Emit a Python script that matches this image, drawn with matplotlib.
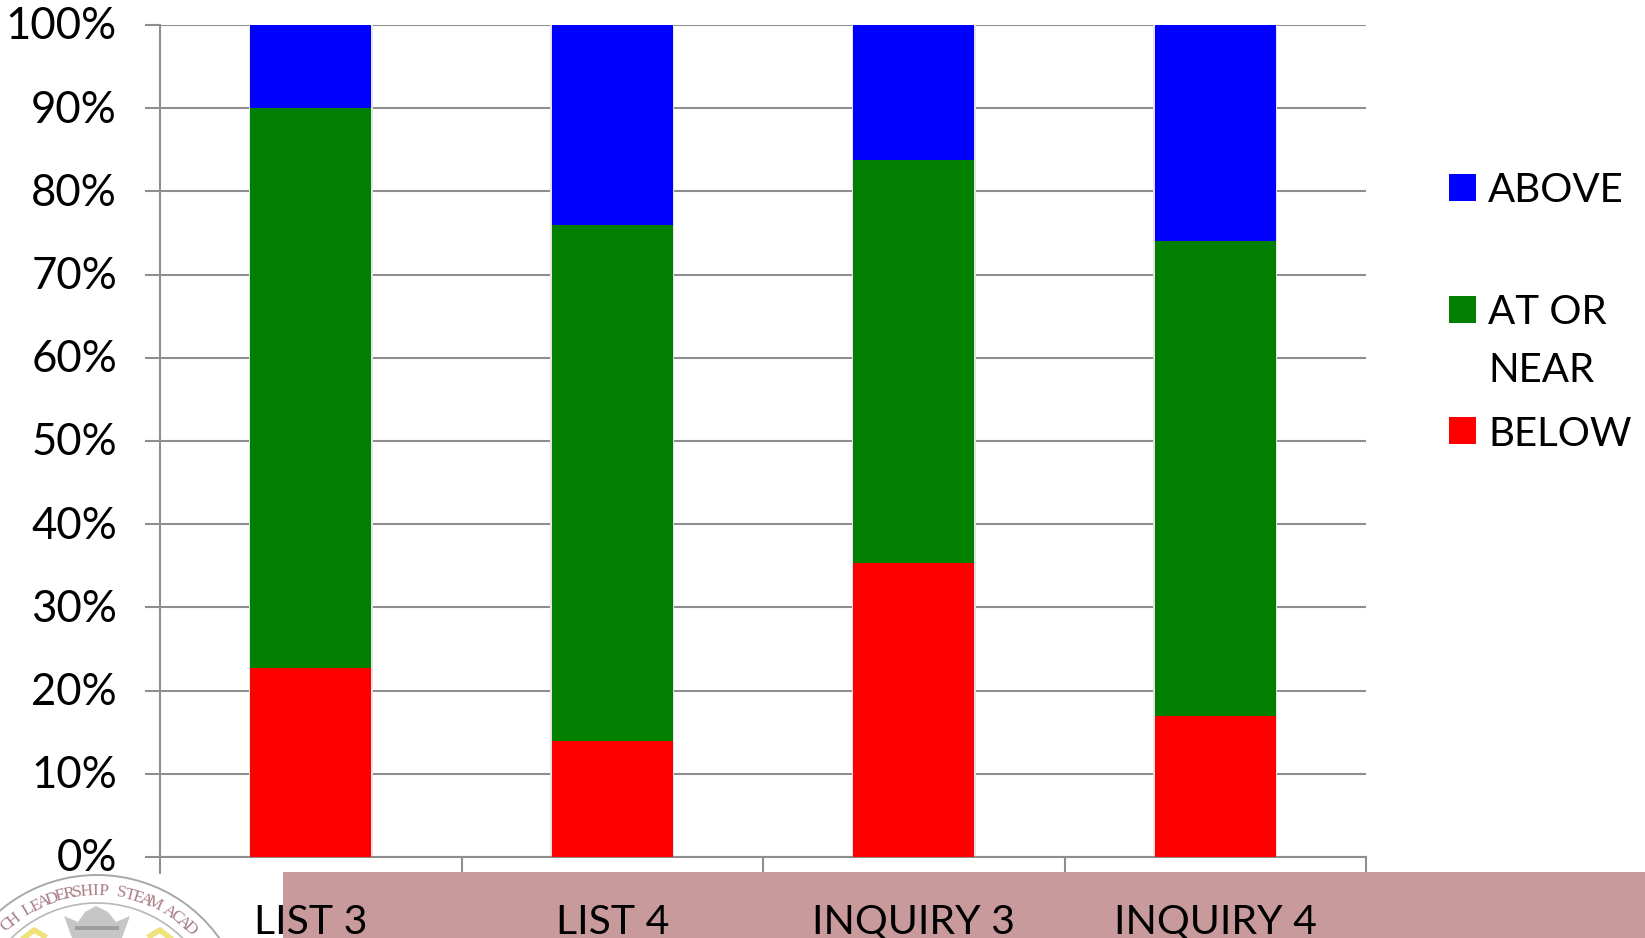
import numpy as np
import matplotlib.pyplot as plt
from matplotlib.patches import Rectangle, Arc, Polygon
from matplotlib.transforms import ScaledTranslation

plt.rcParams['font.family'] = ['Lato', 'DejaVu Sans']

W, H = 1645, 938

# Valores de la grafica (porcentaje)
categorias = ['LIST 3', 'LIST 4', 'INQUIRY 3', 'INQUIRY 4']
below = [22.7, 14.0, 35.3, 17.0]
at_near = [67.3, 62.0, 48.5, 57.0]
above = [10.0, 24.0, 16.2, 26.0]
yticks = [0, 10, 20, 30, 40, 50, 60, 70, 80, 90, 100]
sello = 'CH LEADERSHIP STEAM ACAD'

AZUL, VERDE, ROJO = '#0000ff', '#007f00', '#ff0000'
GRIS = '#8e8e8e'

fig = plt.figure(figsize=(W / 100, H / 100), dpi=100)
ax = fig.add_axes([160 / W, 1 - 857 / H, (1366 - 160) / W, (857 - 25) / H])

x = np.arange(len(categorias))
ancho = 0.4
total = np.add(np.add(below, at_near), above)
# sombra suave detras de las barras
ax.bar(x, total, ancho + 0.012, color='#e4e4e4', zorder=2)
ax.bar(x, below, ancho, color=ROJO, zorder=3)
ax.bar(x, at_near, ancho, bottom=below, color=VERDE, zorder=3)
ax.bar(x, above, ancho, bottom=np.add(below, at_near), color=AZUL, zorder=3)

ax.set_xlim(-0.5, 3.5)
ax.set_ylim(0, 100)
ax.set_yticks(yticks)
ax.set_yticklabels([f'{v}%' for v in yticks], fontsize=31.5)
ax.grid(axis='y', color=GRIS, lw=1.5, zorder=1)
for s in ['top', 'right']:
    ax.spines[s].set_visible(False)
ax.spines['left'].set_color(GRIS)
ax.spines['bottom'].set_color(GRIS)
ax.spines['left'].set_linewidth(1.5)
ax.spines['bottom'].set_linewidth(1.5)
ax.tick_params(axis='y', length=11, width=1.5, color=GRIS, pad=20, labelcolor='black')
ax.set_xticks(np.arange(-0.5, 4, 1))
ax.set_xticklabels([])
ax.tick_params(axis='x', length=12, width=1.5, color=GRIS)

# subir un poco las etiquetas del eje y
subir = ScaledTranslation(0, 1.5 / 72, fig.dpi_scale_trans)
for t in ax.get_yticklabels():
    t.set_transform(t.get_transform() + subir)

# Capa en coordenadas de pixel para banda, sello y leyenda
capa = fig.add_axes([0, 0, 1, 1], zorder=5)
capa.set_xlim(0, W)
capa.set_ylim(H, 0)
capa.axis('off')
capa.add_patch(Rectangle((283, 872), W - 283, H - 872, color='#c89a9c', lw=0, zorder=1))

# Sello recortado abajo a la izquierda
cx, cy = 97, 1025
capa.add_patch(Arc((cx, cy), 300, 300, theta1=200, theta2=340, color='#a8a8a8', lw=1.4, zorder=2))
capa.add_patch(Arc((cx, cy), 244, 244, theta1=200, theta2=340, color='#b8b8b8', lw=1.2, zorder=2))
angulos = np.linspace(-42, 44, len(sello))
for letra, ang in zip(sello, angulos):
    a = np.deg2rad(ang)
    capa.text(cx + 134 * np.sin(a), cy - 134 * np.cos(a), letra, rotation=-ang,
              fontsize=12.5, family='Liberation Serif', color='#a98088', ha='center', va='center', zorder=3)
# corona
capa.add_patch(Polygon([(72, 938), (64, 916), (78, 922), (85, 912), (96, 906), (108, 912), (116, 922),
                        (130, 916), (122, 938)], closed=True, color='#c6c6c6', lw=0, zorder=2))
capa.add_patch(Rectangle((75, 926), 44, 4, color='#9e9e9e', lw=0, zorder=3))
# cintas amarillas
capa.plot([24, 34, 44], [938, 930, 936], color='#efe27a', lw=4, zorder=2)
capa.plot([150, 160, 170], [936, 930, 938], color='#efe27a', lw=4, zorder=2)

# Etiquetas del eje x, encima de la banda
for c, xc in zip(categorias, 160 + (x + 0.5) * 301.5):
    capa.text(xc, 922, c, fontsize=29.5, ha='center', va='center', color='black', zorder=4)

# Leyenda
for color, ym, yt, txt in [(AZUL, 188, 191, 'ABOVE'), (VERDE, 310, 312, 'AT OR'), (ROJO, 431, 434, 'BELOW')]:
    capa.add_patch(Rectangle((1449, ym - 13.5), 27, 27, color=color, lw=0, zorder=2))
    capa.text(1488, yt, txt, fontsize=29, ha='left', va='center', color='black')
capa.text(1488, 370, 'NEAR', fontsize=29, ha='left', va='center', color='black')

fig.savefig('out.png', dpi=100)
